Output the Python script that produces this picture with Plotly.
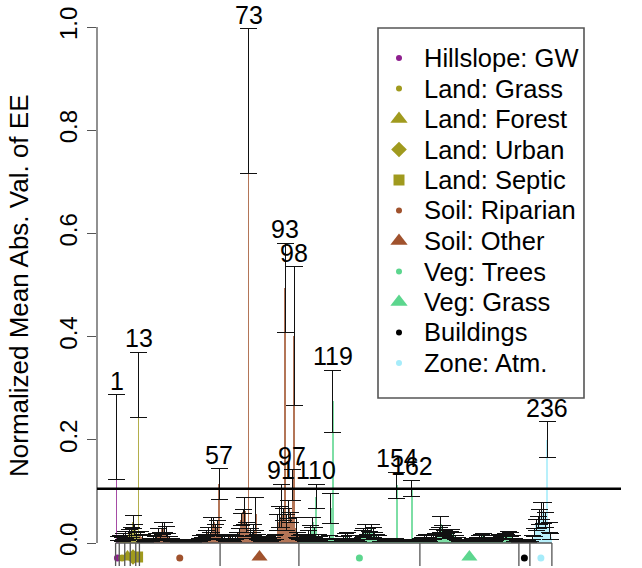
import plotly.graph_objects as go

# ---------------- data ----------------
ee_mean = [
    0.205, 0.008, 0.010, 0.006, 0.012, 0.015, 0.009, 0.018, 0.020, 0.041,
    0.025, 0.014, 0.307, 0.018, 0.012, 0.004, 0.003, 0.005, 0.003, 0.006,
    0.010, 0.008, 0.012, 0.020, 0.015, 0.028, 0.030, 0.022, 0.012, 0.008,
    0.006, 0.004, 0.005, 0.003, 0.002, 0.004, 0.003, 0.002, 0.003, 0.004,
    0.002, 0.003, 0.002, 0.004, 0.003, 0.006, 0.010, 0.008, 0.012, 0.018,
    0.022, 0.015, 0.035, 0.040, 0.025, 0.030, 0.114, 0.012, 0.010, 0.008,
    0.006, 0.010, 0.012, 0.008, 0.006, 0.010, 0.015, 0.020, 0.045, 0.061,
    0.062, 0.030, 0.857, 0.020, 0.015, 0.025, 0.057, 0.012, 0.008, 0.006,
    0.004, 0.005, 0.008, 0.006, 0.004, 0.007, 0.010, 0.012, 0.040, 0.050,
    0.072, 0.055, 0.494, 0.040, 0.065, 0.050, 0.112, 0.401, 0.030, 0.015,
    0.010, 0.012, 0.008, 0.006, 0.010, 0.018, 0.025, 0.040, 0.020, 0.090,
    0.012, 0.008, 0.006, 0.005, 0.004, 0.006, 0.010, 0.067, 0.275, 0.006,
    0.005, 0.004, 0.006, 0.005, 0.008, 0.012, 0.014, 0.010, 0.006, 0.004,
    0.005, 0.003, 0.004, 0.010, 0.018, 0.020, 0.025, 0.022, 0.016, 0.028,
    0.020, 0.015, 0.012, 0.010, 0.005, 0.004, 0.006, 0.003, 0.004, 0.005,
    0.003, 0.004, 0.006, 0.112, 0.004, 0.003, 0.005, 0.004, 0.003, 0.005,
    0.004, 0.106, 0.004, 0.003, 0.004, 0.003, 0.006, 0.008, 0.010, 0.012,
    0.008, 0.006, 0.010, 0.012, 0.014, 0.020, 0.022, 0.036, 0.025, 0.018,
    0.014, 0.020, 0.016, 0.018, 0.014, 0.010, 0.008, 0.005, 0.004, 0.003,
    0.004, 0.005, 0.003, 0.004, 0.006, 0.004, 0.005, 0.008, 0.010, 0.012,
    0.014, 0.010, 0.008, 0.006, 0.005, 0.004, 0.006, 0.008, 0.010, 0.012,
    0.009, 0.011, 0.014, 0.012, 0.018, 0.016, 0.010, 0.006, 0.004, 0.003,
    0.002, 0.003, 0.002, 0.004, 0.003, 0.002, 0.004, 0.010, 0.020, 0.035,
    0.040, 0.050, 0.062, 0.058, 0.045, 0.200, 0.030, 0.012,
]

ee_err = [
    0.082, 0.004, 0.005, 0.004, 0.006, 0.007, 0.005, 0.008, 0.010, 0.013,
    0.010, 0.007, 0.063, 0.004, 0.005, 0.002, 0.002, 0.002, 0.001, 0.003,
    0.004, 0.004, 0.006, 0.008, 0.006, 0.011, 0.009, 0.010, 0.006, 0.004,
    0.003, 0.002, 0.002, 0.001, 0.001, 0.002, 0.001, 0.001, 0.001, 0.002,
    0.001, 0.001, 0.001, 0.002, 0.001, 0.003, 0.004, 0.003, 0.005, 0.006,
    0.008, 0.006, 0.015, 0.010, 0.010, 0.014, 0.030, 0.005, 0.004, 0.004,
    0.003, 0.005, 0.005, 0.004, 0.003, 0.004, 0.006, 0.008, 0.012, 0.004,
    0.027, 0.010, 0.140, 0.008, 0.006, 0.010, 0.032, 0.005, 0.003, 0.003,
    0.002, 0.002, 0.004, 0.003, 0.002, 0.003, 0.004, 0.005, 0.015, 0.020,
    0.042, 0.012, 0.087, 0.015, 0.018, 0.010, 0.030, 0.134, 0.020, 0.006,
    0.004, 0.004, 0.003, 0.003, 0.004, 0.006, 0.008, 0.009, 0.010, 0.024,
    0.005, 0.004, 0.003, 0.002, 0.002, 0.003, 0.004, 0.029, 0.060, 0.003,
    0.002, 0.002, 0.003, 0.002, 0.004, 0.006, 0.006, 0.005, 0.003, 0.002,
    0.002, 0.001, 0.002, 0.004, 0.007, 0.008, 0.010, 0.006, 0.006, 0.008,
    0.010, 0.006, 0.005, 0.004, 0.002, 0.002, 0.003, 0.001, 0.002, 0.002,
    0.001, 0.002, 0.003, 0.025, 0.002, 0.001, 0.002, 0.002, 0.001, 0.002,
    0.002, 0.016, 0.002, 0.001, 0.002, 0.001, 0.003, 0.003, 0.004, 0.004,
    0.003, 0.003, 0.004, 0.005, 0.005, 0.006, 0.008, 0.015, 0.008, 0.006,
    0.005, 0.006, 0.006, 0.008, 0.006, 0.004, 0.003, 0.002, 0.002, 0.001,
    0.002, 0.002, 0.001, 0.002, 0.003, 0.002, 0.002, 0.003, 0.004, 0.004,
    0.005, 0.004, 0.003, 0.003, 0.002, 0.002, 0.003, 0.003, 0.004, 0.004,
    0.003, 0.004, 0.005, 0.004, 0.005, 0.004, 0.004, 0.003, 0.002, 0.001,
    0.001, 0.001, 0.001, 0.002, 0.001, 0.001, 0.002, 0.004, 0.008, 0.010,
    0.012, 0.015, 0.016, 0.020, 0.015, 0.035, 0.010, 0.006,
]

categories = ["Hillslope: GW", "Land: Grass", "Land: Forest", "Land: Urban",
              "Land: Septic", "Soil: Riparian", "Soil: Other", "Veg: Trees",
              "Veg: Grass", "Buildings", "Zone: Atm."]
cat_first = [1, 3, 6, 9, 12, 14, 58, 101, 167, 221, 227]
cat_last = [2, 5, 8, 11, 13, 57, 100, 166, 220, 226, 238]
cat_color = ["#8E1F8E", "#A09A1E", "#A09A1E", "#A09A1E", "#A09A1E",
             "#A0522D", "#A0522D", "#5CD68E", "#5CD68E", "#000000", "#A6ECFA"]
cat_symbol = ["circle", "circle", "triangle-up", "diamond", "square",
              "circle", "triangle-up", "circle", "triangle-up", "circle", "circle"]

labelled = [1, 13, 57, 73, 91, 93, 97, 98, 110, 119, 154, 162, 236]
threshold = 0.105

y_ticks = [0.0, 0.2, 0.4, 0.6, 0.8, 1.0]
y_ticktext = ["0.0", "0.2", "0.4", "0.6", "0.8", "1.0"]
y_title = "Normalized Mean Abs. Val. of EE"

# ---------------- geometry of the page ----------------
FONT = "Liberation Sans, Arial, sans-serif"
W, H = 642, 568
ML, MR, MT, MB = 97, 21, 27, 0          # plot area reaches the bottom edge
Y0_PX, Y1_PX = 543, 27                  # pixel rows of y = 0 and y = 1
PW, PH = W - ML - MR, H - MT - MB
XR = [-9.64, 276.2]
YR = [-(H - MB - Y0_PX) / (Y0_PX - Y1_PX), 1.0]


def px_x(px):   # page pixel -> x data
    return XR[0] + (px - ML) / PW * (XR[1] - XR[0])


def px_y(py):   # page pixel -> y data
    return (Y0_PX - py) / (Y0_PX - Y1_PX)


def px_px(px):  # page pixel -> paper x
    return (px - ML) / PW


def px_py(py):  # page pixel -> paper y
    return (H - MB - py) / PH


n = len(ee_mean)
idx = list(range(1, n + 1))


def hex_rgba(h, a):
    h = h.lstrip("#")
    return "rgba(%d,%d,%d,%.2f)" % (int(h[0:2], 16), int(h[2:4], 16), int(h[4:6], 16), a)


bar_colors = []
for i in idx:
    for c, f, l in zip(cat_color, cat_first, cat_last):
        if f <= i <= l:
            bar_colors.append(hex_rgba(c, 0.8))
            break

fig = go.Figure()
fig.add_trace(go.Bar(
    x=idx, y=ee_mean, width=0.95,
    marker=dict(color=bar_colors, line=dict(width=0)),
    error_y=dict(type="data", array=ee_err, color="#111111", thickness=1.0, width=8.5),
    showlegend=False, hoverinfo="skip",
))

marker_size = {"circle": 7, "triangle-up": 14, "diamond": 12, "square": 11}
leg_size = {"circle": 6, "triangle-up": 15, "diamond": 12, "square": 11}

# category markers below the axis
mx, my, mc, ms, mz = [], [], [], [], []
for name, f, l, c, s in zip(categories, cat_first, cat_last, cat_color, cat_symbol):
    mx.append((f + l) / 2)
    my.append(px_y(558) if s == "circle" else px_y(557))
    mc.append(c)
    ms.append(s)
    mz.append(marker_size[s])
fig.add_trace(go.Scatter(x=mx, y=my, mode="markers",
                         marker=dict(color=mc, symbol=ms, size=mz, opacity=1, line=dict(width=0)),
                         cliponaxis=False, showlegend=False, hoverinfo="skip"))

# hand-drawn legend (R style)
LEG_X0, LEG_X1, LEG_Y0, LEG_Y1 = 378, 584, 28, 398
ROW0, ROW_STEP = 58, 30.5
lx, ly, lc, ls, lz = [], [], [], [], []
annotations = []
for k, (name, c, s) in enumerate(zip(categories, cat_color, cat_symbol)):
    yrow = ROW0 + k * ROW_STEP
    lx.append(px_x(399))
    ly.append(px_y(yrow))
    lc.append(c)
    ls.append(s)
    lz.append(leg_size[s])
    annotations.append(dict(x=px_px(422), y=px_py(yrow), xref="paper", yref="paper",
                            text=name, showarrow=False, xanchor="left", yanchor="middle",
                            font=dict(size=25.5, color="black", family=FONT)))

shapes = []
shapes.append(dict(type="rect", xref="paper", yref="paper",
                   x0=px_px(LEG_X0), x1=px_px(LEG_X1), y0=px_py(LEG_Y1), y1=px_py(LEG_Y0),
                   line=dict(color="#555555", width=1.6), fillcolor="white", layer="below"))

# left axis line (0..1 only)
shapes.append(dict(type="line", xref="paper", yref="y", x0=0, x1=0, y0=0, y1=1,
                   line=dict(color="#555555", width=1.3)))
# bottom axis line and group boundary ticks
bounds = [cat_first[0] - 0.5] + [l + 0.5 for l in cat_last]
shapes.append(dict(type="line", xref="x", yref="y", x0=bounds[0], x1=bounds[-1],
                   y0=0, y1=0, line=dict(color="#555555", width=1.3)))
for b in bounds:
    shapes.append(dict(type="line", xref="x", yref="y", x0=b, x1=b,
                       y0=0, y1=px_y(566), line=dict(color="#555555", width=1.3)))
# threshold line
shapes.append(dict(type="line", xref="paper", yref="y", x0=0, x1=1,
                   y0=threshold, y1=threshold, line=dict(color="black", width=2.6)))

for i in labelled:
    annotations.append(dict(x=i, y=ee_mean[i - 1] + ee_err[i - 1], xref="x", yref="y",
                            text=str(i), showarrow=False, yanchor="bottom", yshift=-2,
                            font=dict(size=25, color="black", family=FONT)))
annotations.append(dict(x=0, y=px_py(286), xref="paper", yref="paper", text=y_title,
                        textangle=-90, showarrow=False, xanchor="center", yanchor="middle",
                        xshift=-78, font=dict(size=26, color="black", family=FONT)))

fig.update_layout(
    width=W, height=H,
    margin=dict(l=ML, r=MR, t=MT, b=MB, autoexpand=False),
    paper_bgcolor="white", plot_bgcolor="white",
    font=dict(family=FONT, color="black"),
    shapes=shapes, annotations=annotations,
    showlegend=False,
    xaxis=dict(range=XR, visible=False, showgrid=False, zeroline=False),
    yaxis=dict(range=YR, tickvals=y_ticks, ticktext=y_ticktext, tickangle=-90,
               automargin=False, showline=False,
               ticks="outside", ticklen=9, tickcolor="#555555", tickwidth=1.3,
               tickfont=dict(size=24, color="black"), showgrid=False, zeroline=False),
    bargap=0,
)

# legend symbols
fig.add_trace(go.Scatter(x=lx, y=ly, mode="markers",
                         marker=dict(color=lc, symbol=ls, size=lz, opacity=1, line=dict(width=0)),
                         cliponaxis=False, showlegend=False, hoverinfo="skip"))

fig.write_html("out.html", config={"displayModeBar": False},
               post_script="document.body.style.margin='0px';document.body.style.overflow='hidden';")
